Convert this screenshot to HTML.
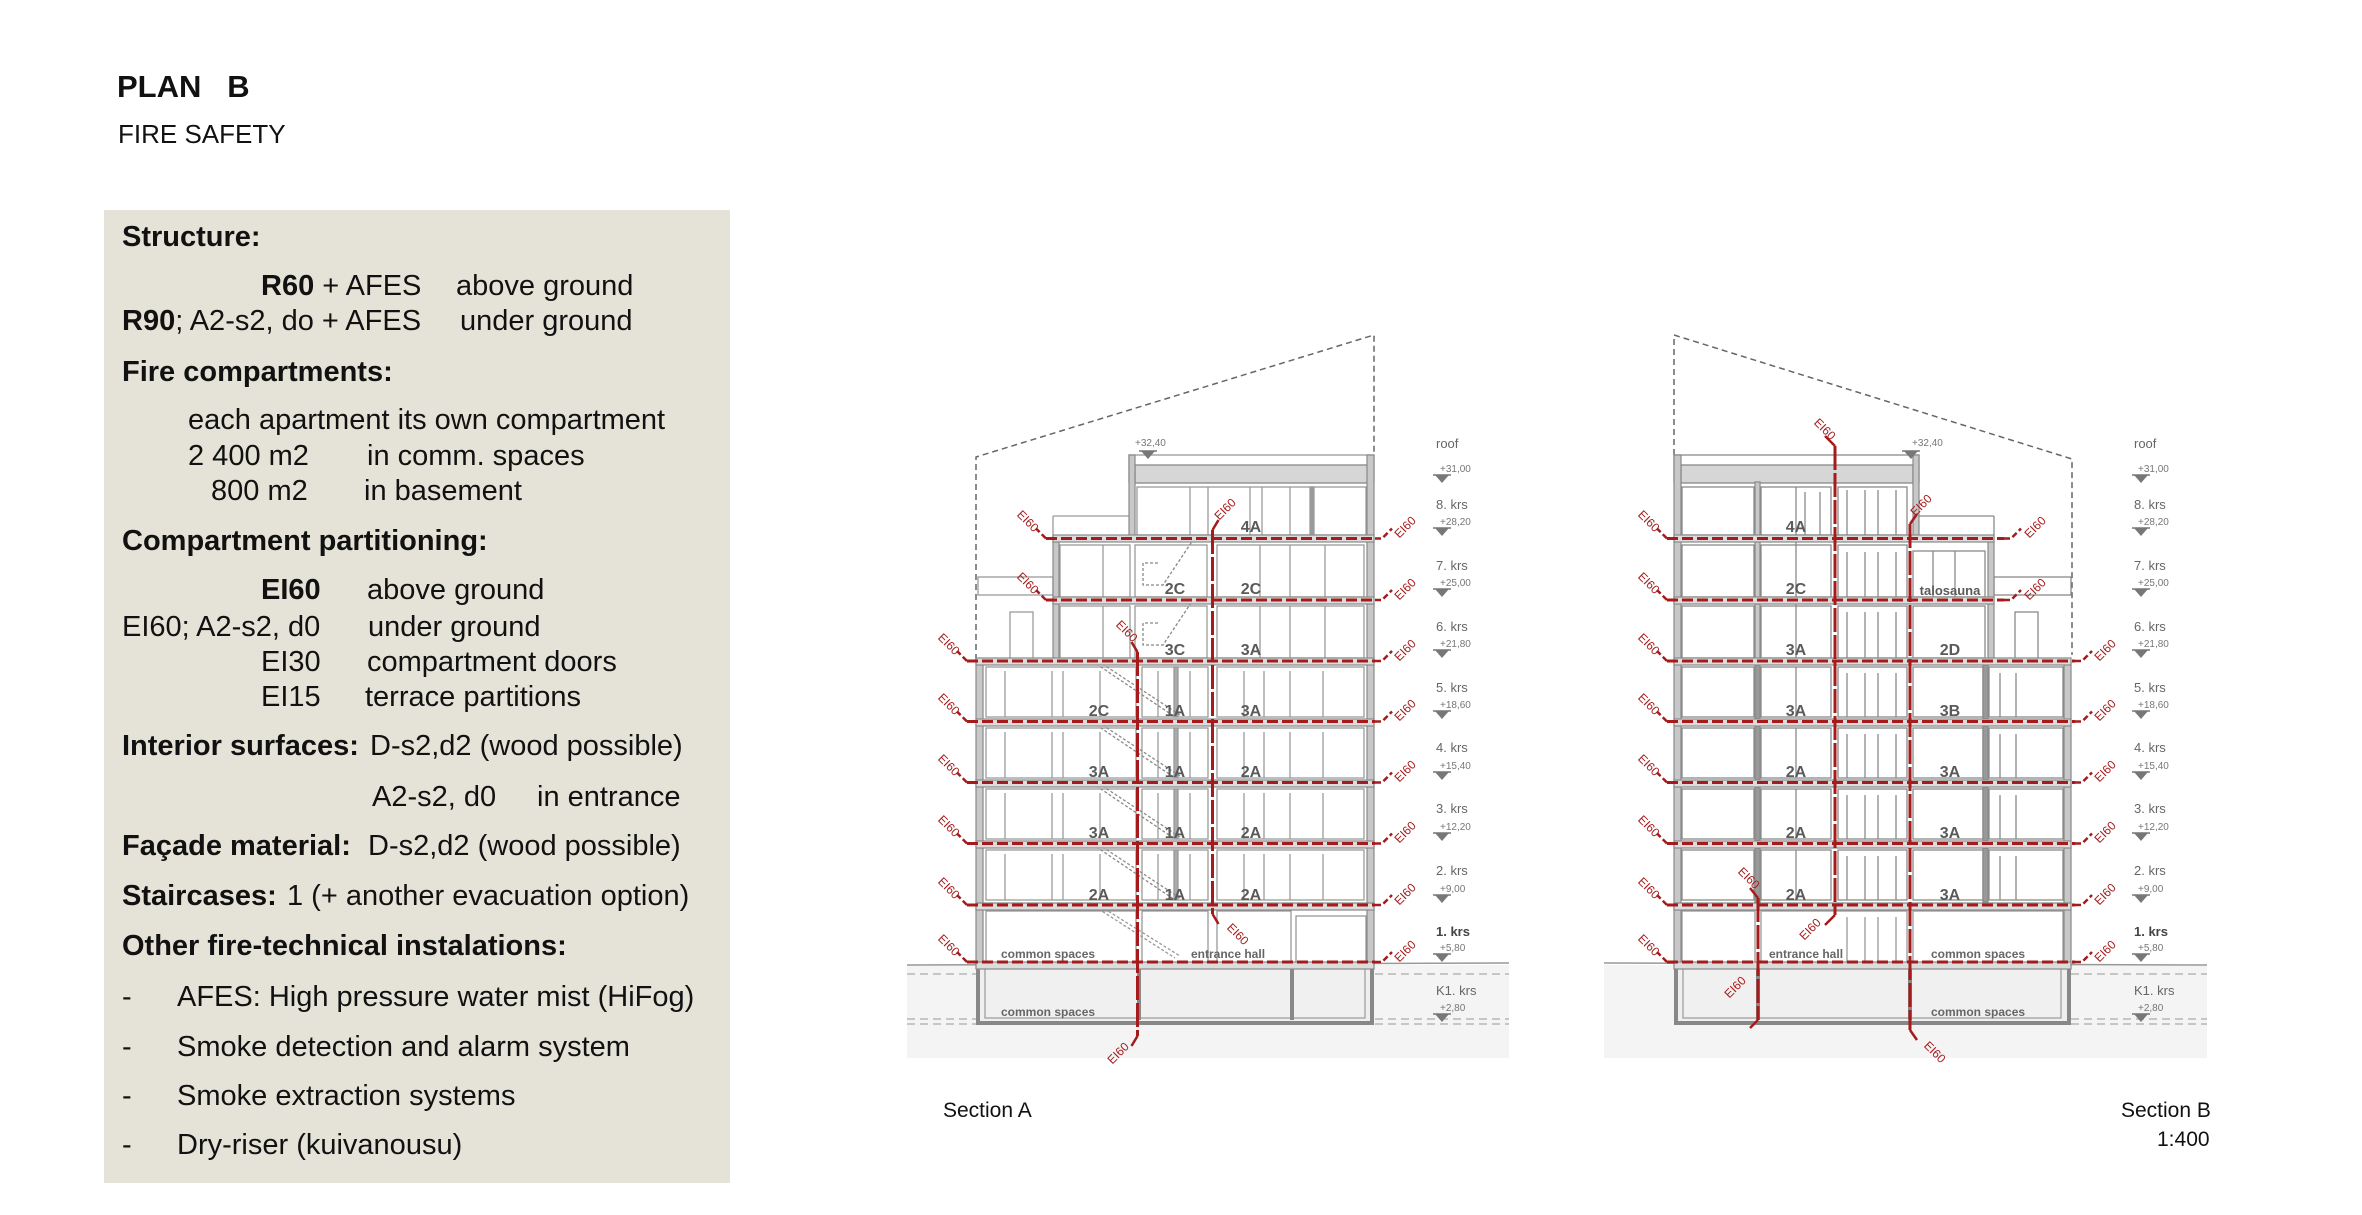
<!DOCTYPE html>
<html><head><meta charset="utf-8">
<style>
html,body{margin:0;padding:0;background:#fff;}
body{width:2362px;height:1215px;position:relative;overflow:hidden;font-family:"Liberation Sans",sans-serif;color:#111;}
.t{position:absolute;white-space:pre;font-size:29px;line-height:1;}
.b{font-weight:bold;}
#panel{position:absolute;left:104px;top:210px;width:626px;height:973px;background:#e5e3d8;}
svg{position:absolute;left:0;top:0;}
</style></head><body>
<div class="t b" style="left:117px;top:71px;font-size:31px;">PLAN&nbsp;&nbsp;&nbsp;B</div>
<div class="t" style="left:118px;top:121px;font-size:26px;">FIRE SAFETY</div>
<div id="panel"></div>
<div class="t b" style="left:122px;top:223px;">Structure:</div>
<div class="t" style="left:261px;top:272px;"><b>R60</b> + AFES</div>
<div class="t" style="left:456px;top:272px;">above ground</div>
<div class="t" style="left:122px;top:307px;"><b>R90</b>; A2-s2, do + AFES</div>
<div class="t" style="left:460px;top:307px;">under ground</div>
<div class="t b" style="left:122px;top:358px;">Fire compartments:</div>
<div class="t" style="left:188px;top:406px;">each apartment its own compartment</div>
<div class="t" style="left:188px;top:442px;">2 400 m2</div>
<div class="t" style="left:367px;top:442px;">in comm. spaces</div>
<div class="t" style="left:211px;top:477px;">800 m2</div>
<div class="t" style="left:364px;top:477px;">in basement</div>
<div class="t b" style="left:122px;top:527px;">Compartment partitioning:</div>
<div class="t b" style="left:261px;top:576px;">EI60</div>
<div class="t" style="left:367px;top:576px;">above ground</div>
<div class="t" style="left:122px;top:613px;">EI60; A2-s2, d0</div>
<div class="t" style="left:368px;top:613px;">under ground</div>
<div class="t" style="left:261px;top:648px;">EI30</div>
<div class="t" style="left:367px;top:648px;">compartment doors</div>
<div class="t" style="left:261px;top:683px;">EI15</div>
<div class="t" style="left:365px;top:683px;">terrace partitions</div>
<div class="t b" style="left:122px;top:732px;">Interior surfaces:</div>
<div class="t" style="left:370px;top:732px;">D-s2,d2 (wood possible)</div>
<div class="t" style="left:372px;top:783px;">A2-s2, d0</div>
<div class="t" style="left:537px;top:783px;">in entrance</div>
<div class="t b" style="left:122px;top:832px;">Façade material:</div>
<div class="t" style="left:368px;top:832px;">D-s2,d2 (wood possible)</div>
<div class="t b" style="left:122px;top:882px;">Staircases:</div>
<div class="t" style="left:287px;top:882px;">1 (+ another evacuation option)</div>
<div class="t b" style="left:122px;top:932px;">Other fire-technical instalations:</div>
<div class="t" style="left:122px;top:983px;">-</div><div class="t" style="left:177px;top:983px;">AFES: High pressure water mist (HiFog)</div>
<div class="t" style="left:122px;top:1033px;">-</div><div class="t" style="left:177px;top:1033px;">Smoke detection and alarm system</div>
<div class="t" style="left:122px;top:1082px;">-</div><div class="t" style="left:177px;top:1082px;">Smoke extraction systems</div>
<div class="t" style="left:122px;top:1131px;">-</div><div class="t" style="left:177px;top:1131px;">Dry-riser (kuivanousu)</div>
<div class="t" style="left:943px;top:1100px;font-size:21px;">Section A</div>
<div class="t" style="left:2121px;top:1100px;font-size:21px;">Section B</div>
<div class="t" style="left:2157px;top:1129px;font-size:21px;">1:400</div>

<svg width="2362" height="1215" viewBox="0 0 2362 1215" font-family="Liberation Sans, sans-serif">
<defs>
 <g id="tri"><line x1="-9" y1="0" x2="9" y2="0" stroke="#777" stroke-width="1.5"/><polygon points="-7,0 7,0 0,8" fill="#777"/></g>
 <!-- Section A full-width floor (height 61) -->
 <g id="flA" fill="none" stroke="#9a9a9a" stroke-width="1.3">
  <rect x="986" y="6" width="150" height="50"/>
  <rect x="1142" y="6" width="66" height="50"/>
  <rect x="1217" y="6" width="147" height="50"/>
  <line x1="1005" y1="10" x2="1005" y2="56"/><line x1="1052" y1="10" x2="1052" y2="56"/><line x1="1063" y1="10" x2="1063" y2="56"/><line x1="1100" y1="10" x2="1100" y2="56"/>
  <line x1="1158" y1="10" x2="1158" y2="56"/><line x1="1190" y1="10" x2="1190" y2="56"/>
  <line x1="1244" y1="10" x2="1244" y2="56"/><line x1="1264" y1="10" x2="1264" y2="56"/><line x1="1290" y1="10" x2="1290" y2="56"/><line x1="1323" y1="10" x2="1323" y2="56"/>
  <rect x="1174" y="6" width="4" height="50" fill="#aaa"/>
  <line x1="1092" y1="0" x2="1175" y2="56" stroke="#8a8a8a" stroke-dasharray="3 2"/>
  <line x1="1098" y1="0" x2="1180" y2="54" stroke="#8a8a8a" stroke-dasharray="3 2"/>
 </g>
 <!-- Section B full-width floor -->
 <g id="flB" fill="none" stroke="#8a8a8a" stroke-width="1.3">
  <rect x="1682" y="6" width="72" height="50"/>
  <rect x="1761" y="6" width="70" height="50"/>
  <rect x="1838" y="6" width="69" height="50"/>
  <rect x="1913" y="6" width="70" height="50"/>
  <rect x="1989" y="6" width="74" height="50"/>
  <rect x="1755" y="4" width="5" height="54" fill="#999"/>
  <rect x="1983" y="4" width="5" height="54" fill="#999"/>
  <line x1="1796" y1="6" x2="1796" y2="56"/>
  <line x1="1847" y1="12" x2="1847" y2="56"/><line x1="1865" y1="12" x2="1865" y2="56"/><line x1="1878" y1="12" x2="1878" y2="56"/><line x1="1896" y1="12" x2="1896" y2="56"/>
  <line x1="2000" y1="12" x2="2000" y2="56"/><line x1="2016" y1="12" x2="2016" y2="56"/>
 </g>
</defs>

<!-- ============ SECTION A ============ -->
<rect x="907" y="965" width="602" height="93" fill="#f4f4f4"/>
<line x1="907" y1="965" x2="1509" y2="963" stroke="#999" stroke-width="1.5"/>
<g stroke="#aaa" stroke-width="1.2" stroke-dasharray="8 5"><line x1="907" y1="974" x2="1509" y2="974"/><line x1="907" y1="1019" x2="1509" y2="1019"/><line x1="907" y1="1024" x2="1509" y2="1024"/></g>
<!-- dashed envelope -->
<polyline points="976,660 976,457 1374,335 1374,455" fill="none" stroke="#666" stroke-width="1.5" stroke-dasharray="6 4"/>
<!-- basement -->
<rect x="978" y="965" width="394" height="58" fill="#efefef" stroke="#888" stroke-width="4"/>
<rect x="985" y="968" width="380" height="50" fill="#f0f0f0" stroke="#999" stroke-width="1.2"/>
<line x1="1139" y1="966" x2="1139" y2="1020" stroke="#888" stroke-width="4"/>
<line x1="1292" y1="966" x2="1292" y2="1020" stroke="#888" stroke-width="4"/>
<!-- floors 2-5 -->
<use href="#flA" transform="translate(0,661)"/>
<use href="#flA" transform="translate(0,722)"/>
<use href="#flA" transform="translate(0,783)"/>
<use href="#flA" transform="translate(0,844)"/>
<!-- floor 1 -->
<g fill="none" stroke="#999" stroke-width="1.3">
 <rect x="986" y="911" width="150" height="52"/><rect x="1142" y="911" width="66" height="52"/><rect x="1217" y="911" width="74" height="52"/><rect x="1296" y="916" width="70" height="47"/>
 <line x1="1094" y1="906" x2="1175" y2="958" stroke-dasharray="3 2"/><line x1="1100" y1="906" x2="1180" y2="956" stroke-dasharray="3 2"/>
</g>
<!-- floors 6,7 (1053-1374) -->
<g fill="none" stroke="#9a9a9a" stroke-width="1.3">
 <rect x="1060" y="545" width="70" height="52"/><rect x="1135" y="545" width="72" height="52"/><rect x="1217" y="545" width="147" height="52"/>
 <rect x="1060" y="606" width="70" height="52"/><rect x="1135" y="606" width="72" height="52"/><rect x="1217" y="606" width="147" height="52"/>
 <line x1="1103" y1="545" x2="1103" y2="597"/><line x1="1260" y1="545" x2="1260" y2="597"/><line x1="1290" y1="545" x2="1290" y2="597"/><line x1="1325" y1="545" x2="1325" y2="597"/>
 <line x1="1103" y1="606" x2="1103" y2="658"/><line x1="1260" y1="606" x2="1260" y2="658"/><line x1="1290" y1="606" x2="1290" y2="658"/><line x1="1325" y1="606" x2="1325" y2="658"/>
 <path d="M1158 563 h-15 v22 h20 l30 -45" stroke-dasharray="3 2" stroke="#888"/>
 <path d="M1158 623 h-15 v22 h20 l30 -45" stroke-dasharray="3 2" stroke="#888"/>
 <!-- terrace railing & door -->
 <rect x="978" y="577" width="75" height="18"/>
 <rect x="1010" y="612" width="23" height="47"/>
 <line x1="1053" y1="516" x2="1129" y2="516"/><line x1="1053" y1="516" x2="1053" y2="538"/>
</g>
<!-- floor 8 -->
<g fill="none" stroke="#9a9a9a" stroke-width="1.3">
 <rect x="1129" y="455" width="245" height="27" fill="none"/>
 <rect x="1135" y="465" width="233" height="18" fill="#d6d6d6" stroke="#888"/>
 <rect x="1137" y="487" width="229" height="48"/>
 <line x1="1190" y1="487" x2="1190" y2="535"/><line x1="1208" y1="487" x2="1208" y2="535"/><line x1="1250" y1="487" x2="1250" y2="535"/><line x1="1262" y1="487" x2="1262" y2="535"/><line x1="1290" y1="487" x2="1290" y2="535"/>
 <rect x="1310" y="487" width="4" height="48" fill="#999"/>
</g>
<!-- walls -->
<g fill="#c8c8c8" stroke="#888" stroke-width="1.2">
 <rect x="976" y="661" width="7" height="304"/>
 <rect x="1367" y="455" width="7" height="510"/>
 <rect x="1129" y="455" width="6" height="83"/>
 <rect x="1053" y="538" width="6" height="123"/>
</g>
<!-- slabs -->
<g fill="#dcdcdc" stroke="#888" stroke-width="1.2">
 <rect x="1053" y="535" width="321" height="7"/>
 <rect x="1053" y="597" width="321" height="7"/>
 <rect x="976" y="658" width="398" height="7"/>
 <rect x="976" y="719" width="398" height="7"/>
 <rect x="976" y="780" width="398" height="7"/>
 <rect x="976" y="841" width="398" height="7"/>
 <rect x="976" y="903" width="398" height="7"/>
 <rect x="976" y="962" width="398" height="7"/>
</g>
<!-- red lines A -->
<g stroke="#a51b1b" stroke-width="3" fill="none">
 <g stroke-dasharray="11 4">
  <line x1="1046" y1="538.5" x2="1375" y2="538.5"/>
  <line x1="1046" y1="600" x2="1375" y2="600"/>
  <line x1="967" y1="661" x2="1375" y2="661"/>
  <line x1="967" y1="721.5" x2="1375" y2="721.5"/>
  <line x1="967" y1="782.5" x2="1375" y2="782.5"/>
  <line x1="967" y1="843.5" x2="1375" y2="843.5"/>
  <line x1="967" y1="905" x2="1375" y2="905"/>
  <line x1="967" y1="962" x2="1375" y2="962"/>
 </g>
 <line x1="1212.5" y1="530" x2="1212.5" y2="914" stroke-dasharray="24 3"/>
 <line x1="1137.5" y1="652" x2="1137.5" y2="1036" stroke-dasharray="24 3"/>
 <path d="M1212.5 530 l6 -10 M1212.5 914 l6 10 M1137.5 652 l-6 -10 M1137.5 1036 l-6 10" stroke-width="2.5"/>
 <path d="M1046 538.5 l-10 -10 M1046 600 l-10 -10 M967 661 l-10 -10 M967 721.5 l-10 -10 M967 782.5 l-10 -10 M967 843.5 l-10 -10 M967 905 l-10 -10 M967 962 l-10 -10" stroke-width="2.5" stroke-dasharray="6 3"/>
 <path d="M1375 538.5 h7 l10 -10 M1375 600 h7 l10 -10 M1375 661 h7 l10 -10 M1375 721.5 h7 l10 -10 M1375 782.5 h7 l10 -10 M1375 843.5 h7 l10 -10 M1375 905 h7 l10 -10 M1375 962 h7 l10 -10" stroke-width="2.5" stroke-dasharray="6 3"/>
</g>
<g fill="#a51b1b" font-size="12" text-anchor="middle">
 <text transform="translate(1025,524) rotate(45)">EI60</text>
 <text transform="translate(1025,586) rotate(45)">EI60</text>
 <text transform="translate(946,647) rotate(45)">EI60</text>
 <text transform="translate(946,707) rotate(45)">EI60</text>
 <text transform="translate(946,768) rotate(45)">EI60</text>
 <text transform="translate(946,829) rotate(45)">EI60</text>
 <text transform="translate(946,891) rotate(45)">EI60</text>
 <text transform="translate(946,948) rotate(45)">EI60</text>
 <text transform="translate(1408,530) rotate(-45)">EI60</text>
 <text transform="translate(1408,592) rotate(-45)">EI60</text>
 <text transform="translate(1408,653) rotate(-45)">EI60</text>
 <text transform="translate(1408,713) rotate(-45)">EI60</text>
 <text transform="translate(1408,774) rotate(-45)">EI60</text>
 <text transform="translate(1408,835) rotate(-45)">EI60</text>
 <text transform="translate(1408,897) rotate(-45)">EI60</text>
 <text transform="translate(1408,954) rotate(-45)">EI60</text>
 <text transform="translate(1228,512) rotate(-45)">EI60</text>
 <text transform="translate(1235,937) rotate(45)">EI60</text>
 <text transform="translate(1124,634) rotate(45)">EI60</text>
 <text transform="translate(1121,1056) rotate(-45)">EI60</text>
</g>
<g fill="#5a5a5a" font-size="16" font-weight="bold" text-anchor="middle">
 <text x="1251" y="532">4A</text>
 <text x="1175" y="594">2C</text><text x="1251" y="594">2C</text>
 <text x="1175" y="655">3C</text><text x="1251" y="655">3A</text>
 <text x="1099" y="716">2C</text><text x="1175" y="716">1A</text><text x="1251" y="716">3A</text>
 <text x="1099" y="777">3A</text><text x="1175" y="777">1A</text><text x="1251" y="777">2A</text>
 <text x="1099" y="838">3A</text><text x="1175" y="838">1A</text><text x="1251" y="838">2A</text>
 <text x="1099" y="900">2A</text><text x="1175" y="900">1A</text><text x="1251" y="900">2A</text>
</g>
<g fill="#666" font-size="12" font-weight="bold">
 <text x="1001" y="958">common spaces</text>
 <text x="1191" y="958">entrance hall</text>
 <text x="1001" y="1016">common spaces</text>
</g>
<!-- top marker A -->
<use href="#tri" x="1148" y="451"/>
<text x="1135" y="446" font-size="10" fill="#777">+32,40</text>
<!-- levels A -->
<g fill="#666" font-size="13">
 <text x="1436" y="448">roof</text>
 <text x="1436" y="509">8. krs</text><text x="1436" y="570">7. krs</text><text x="1436" y="631">6. krs</text><text x="1436" y="692">5. krs</text>
 <text x="1436" y="752">4. krs</text><text x="1436" y="813">3. krs</text><text x="1436" y="875">2. krs</text>
 <text x="1436" y="936" font-weight="bold" fill="#444">1. krs</text><text x="1436" y="995">K1. krs</text>
</g>
<g fill="#777" font-size="10">
 <text x="1440" y="472">+31,00</text><text x="1440" y="525">+28,20</text><text x="1440" y="586">+25,00</text><text x="1440" y="647">+21,80</text>
 <text x="1440" y="708">+18,60</text><text x="1440" y="769">+15,40</text><text x="1440" y="830">+12,20</text><text x="1440" y="892">+9,00</text>
 <text x="1440" y="951">+5,80</text><text x="1440" y="1011">+2,80</text>
</g>
<use href="#tri" x="1442" y="475"/><use href="#tri" x="1442" y="528"/><use href="#tri" x="1442" y="589"/><use href="#tri" x="1442" y="650"/>
<use href="#tri" x="1442" y="711"/><use href="#tri" x="1442" y="772"/><use href="#tri" x="1442" y="833"/><use href="#tri" x="1442" y="895"/>
<use href="#tri" x="1442" y="954"/><use href="#tri" x="1442" y="1014"/>

<!-- ============ SECTION B ============ -->
<rect x="1604" y="965" width="603" height="93" fill="#f4f4f4"/>
<line x1="1604" y1="963" x2="2207" y2="965" stroke="#999" stroke-width="1.5"/>
<g stroke="#aaa" stroke-width="1.2" stroke-dasharray="8 5"><line x1="2071" y1="974" x2="2207" y2="974"/><line x1="2071" y1="1019" x2="2207" y2="1019"/><line x1="2071" y1="1024" x2="2207" y2="1024"/></g>
<polyline points="1674,455 1674,335 2072,459 2072,655" fill="none" stroke="#666" stroke-width="1.5" stroke-dasharray="6 4"/>
<!-- basement B -->
<rect x="1676" y="965" width="393" height="58" fill="#efefef" stroke="#888" stroke-width="4"/>
<rect x="1683" y="968" width="378" height="50" fill="#f0f0f0" stroke="#999" stroke-width="1.2"/>
<line x1="1758" y1="966" x2="1758" y2="1020" stroke="#888" stroke-width="4"/>
<line x1="1910" y1="966" x2="1910" y2="1020" stroke="#888" stroke-width="4"/>
<!-- floors 2-5 B -->
<use href="#flB" transform="translate(0,661)"/>
<use href="#flB" transform="translate(0,722)"/>
<use href="#flB" transform="translate(0,783)"/>
<use href="#flB" transform="translate(0,844)"/>
<!-- floor 1 B -->
<g fill="none" stroke="#999" stroke-width="1.3">
 <rect x="1682" y="911" width="73" height="52"/><rect x="1761" y="911" width="146" height="52"/><rect x="1913" y="911" width="150" height="52"/>
 <line x1="1847" y1="917" x2="1847" y2="963"/><line x1="1865" y1="917" x2="1865" y2="963"/><line x1="1878" y1="917" x2="1878" y2="963"/><line x1="1896" y1="917" x2="1896" y2="963"/>
</g>
<!-- floors 6,7,8 B (1674-1994) -->
<g fill="none" stroke="#8a8a8a" stroke-width="1.3">
 <rect x="1682" y="606" width="72" height="52"/><rect x="1761" y="606" width="70" height="52"/><rect x="1838" y="606" width="69" height="52"/><rect x="1913" y="606" width="72" height="52"/>
 <rect x="1682" y="545" width="72" height="52"/><rect x="1761" y="545" width="70" height="52"/><rect x="1838" y="545" width="69" height="52"/><rect x="1913" y="551" width="72" height="46"/>
 <rect x="1682" y="487" width="72" height="48"/><rect x="1761" y="487" width="70" height="48"/><rect x="1838" y="487" width="69" height="48"/>
 <line x1="1796" y1="487" x2="1796" y2="658"/>
 <line x1="1805" y1="492" x2="1805" y2="535"/><line x1="1820" y1="492" x2="1820" y2="535"/>
 <line x1="1847" y1="490" x2="1847" y2="535"/><line x1="1865" y1="490" x2="1865" y2="535"/><line x1="1878" y1="490" x2="1878" y2="535"/><line x1="1896" y1="490" x2="1896" y2="535"/>
 <line x1="1847" y1="552" x2="1847" y2="597"/><line x1="1865" y1="552" x2="1865" y2="597"/><line x1="1878" y1="552" x2="1878" y2="597"/><line x1="1896" y1="552" x2="1896" y2="597"/>
 <line x1="1847" y1="612" x2="1847" y2="658"/><line x1="1865" y1="612" x2="1865" y2="658"/><line x1="1878" y1="612" x2="1878" y2="658"/><line x1="1896" y1="612" x2="1896" y2="658"/>
 <line x1="1933" y1="551" x2="1933" y2="597"/><line x1="1955" y1="551" x2="1955" y2="597"/>
 <line x1="1919" y1="516" x2="1994" y2="516"/><line x1="1994" y1="516" x2="1994" y2="538"/>
 <rect x="1994" y="577" width="77" height="18"/>
 <rect x="2015" y="612" width="23" height="47"/>
 <rect x="1674" y="455" width="245" height="27"/>
 <rect x="1681" y="465" width="232" height="18" fill="#d6d6d6" stroke="#888"/>
</g>
<!-- walls B -->
<g fill="#c8c8c8" stroke="#888" stroke-width="1.2">
 <rect x="1674" y="455" width="7" height="510"/>
 <rect x="2064" y="661" width="7" height="304"/>
 <rect x="1913" y="455" width="6" height="83"/>
 <rect x="1988" y="538" width="6" height="123"/>
 <rect x="1755" y="482" width="5" height="179"/>
</g>
<g fill="#dcdcdc" stroke="#888" stroke-width="1.2">
 <rect x="1674" y="535" width="320" height="7"/>
 <rect x="1674" y="597" width="320" height="7"/>
 <rect x="1674" y="658" width="397" height="7"/>
 <rect x="1674" y="719" width="397" height="7"/>
 <rect x="1674" y="780" width="397" height="7"/>
 <rect x="1674" y="841" width="397" height="7"/>
 <rect x="1674" y="903" width="397" height="7"/>
 <rect x="1674" y="962" width="397" height="7"/>
</g>
<g stroke="#a51b1b" stroke-width="3" fill="none">
 <g stroke-dasharray="11 4">
  <line x1="1667" y1="538.5" x2="2004" y2="538.5"/>
  <line x1="1667" y1="600" x2="2004" y2="600"/>
  <line x1="1667" y1="661" x2="2075" y2="661"/>
  <line x1="1667" y1="721.5" x2="2075" y2="721.5"/>
  <line x1="1667" y1="782.5" x2="2075" y2="782.5"/>
  <line x1="1667" y1="843.5" x2="2075" y2="843.5"/>
  <line x1="1667" y1="905" x2="2075" y2="905"/>
  <line x1="1667" y1="962" x2="2075" y2="962"/>
 </g>
 <line x1="1835" y1="446" x2="1835" y2="915" stroke-dasharray="24 3"/>
 <line x1="1910" y1="524" x2="1910" y2="1030" stroke-dasharray="24 3"/>
 <line x1="1758" y1="898" x2="1758" y2="1020" stroke-dasharray="24 3"/>
 <path d="M1835 446 l-10 -10 M1835 915 l-10 10 M1910 524 l7 -10 M1910 1030 l7 10 M1758 898 l-8 -10 M1758 1020 l-8 8" stroke-width="2.5"/>
 <path d="M1667 538.5 l-10 -10 M1667 600 l-10 -10 M1667 661 l-10 -10 M1667 721.5 l-10 -10 M1667 782.5 l-10 -10 M1667 843.5 l-10 -10 M1667 905 l-10 -10 M1667 962 l-10 -10" stroke-width="2.5" stroke-dasharray="6 3"/>
 <path d="M2004 538.5 h7 l10 -10 M2004 600 h7 l10 -10 M2075 661 h7 l10 -10 M2075 721.5 h7 l10 -10 M2075 782.5 h7 l10 -10 M2075 843.5 h7 l10 -10 M2075 905 h7 l10 -10 M2075 962 h7 l10 -10" stroke-width="2.5" stroke-dasharray="6 3"/>
</g>
<g fill="#a51b1b" font-size="12" text-anchor="middle">
 <text transform="translate(1646,524) rotate(45)">EI60</text>
 <text transform="translate(1646,586) rotate(45)">EI60</text>
 <text transform="translate(1646,647) rotate(45)">EI60</text>
 <text transform="translate(1646,707) rotate(45)">EI60</text>
 <text transform="translate(1646,768) rotate(45)">EI60</text>
 <text transform="translate(1646,829) rotate(45)">EI60</text>
 <text transform="translate(1646,891) rotate(45)">EI60</text>
 <text transform="translate(1646,948) rotate(45)">EI60</text>
 <text transform="translate(2038,530) rotate(-45)">EI60</text>
 <text transform="translate(2038,592) rotate(-45)">EI60</text>
 <text transform="translate(2108,653) rotate(-45)">EI60</text>
 <text transform="translate(2108,713) rotate(-45)">EI60</text>
 <text transform="translate(2108,774) rotate(-45)">EI60</text>
 <text transform="translate(2108,835) rotate(-45)">EI60</text>
 <text transform="translate(2108,897) rotate(-45)">EI60</text>
 <text transform="translate(2108,954) rotate(-45)">EI60</text>
 <text transform="translate(1822,432) rotate(45)">EI60</text>
 <text transform="translate(1813,932) rotate(-45)">EI60</text>
 <text transform="translate(1924,508) rotate(-45)">EI60</text>
 <text transform="translate(1932,1055) rotate(45)">EI60</text>
 <text transform="translate(1746,881) rotate(45)">EI60</text>
 <text transform="translate(1738,990) rotate(-45)">EI60</text>
</g>
<g fill="#5a5a5a" font-size="16" font-weight="bold" text-anchor="middle">
 <text x="1796" y="532">4A</text>
 <text x="1796" y="594">2C</text><text x="1950" y="595" font-size="13">talosauna</text>
 <text x="1796" y="655">3A</text><text x="1950" y="655">2D</text>
 <text x="1796" y="716">3A</text><text x="1950" y="716">3B</text>
 <text x="1796" y="777">2A</text><text x="1950" y="777">3A</text>
 <text x="1796" y="838">2A</text><text x="1950" y="838">3A</text>
 <text x="1796" y="900">2A</text><text x="1950" y="900">3A</text>
</g>
<g fill="#666" font-size="12" font-weight="bold">
 <text x="1769" y="958">entrance hall</text>
 <text x="1931" y="958">common spaces</text>
 <text x="1931" y="1016">common spaces</text>
</g>
<use href="#tri" x="1911" y="451"/>
<text x="1912" y="446" font-size="10" fill="#777">+32,40</text>
<g fill="#666" font-size="13">
 <text x="2134" y="448">roof</text>
 <text x="2134" y="509">8. krs</text><text x="2134" y="570">7. krs</text><text x="2134" y="631">6. krs</text><text x="2134" y="692">5. krs</text>
 <text x="2134" y="752">4. krs</text><text x="2134" y="813">3. krs</text><text x="2134" y="875">2. krs</text>
 <text x="2134" y="936" font-weight="bold" fill="#444">1. krs</text><text x="2134" y="995">K1. krs</text>
</g>
<g fill="#777" font-size="10">
 <text x="2138" y="472">+31,00</text><text x="2138" y="525">+28,20</text><text x="2138" y="586">+25,00</text><text x="2138" y="647">+21,80</text>
 <text x="2138" y="708">+18,60</text><text x="2138" y="769">+15,40</text><text x="2138" y="830">+12,20</text><text x="2138" y="892">+9,00</text>
 <text x="2138" y="951">+5,80</text><text x="2138" y="1011">+2,80</text>
</g>
<use href="#tri" x="2141" y="475"/><use href="#tri" x="2141" y="528"/><use href="#tri" x="2141" y="589"/><use href="#tri" x="2141" y="650"/>
<use href="#tri" x="2141" y="711"/><use href="#tri" x="2141" y="772"/><use href="#tri" x="2141" y="833"/><use href="#tri" x="2141" y="895"/>
<use href="#tri" x="2141" y="954"/><use href="#tri" x="2141" y="1014"/>
</svg>
</body></html>
